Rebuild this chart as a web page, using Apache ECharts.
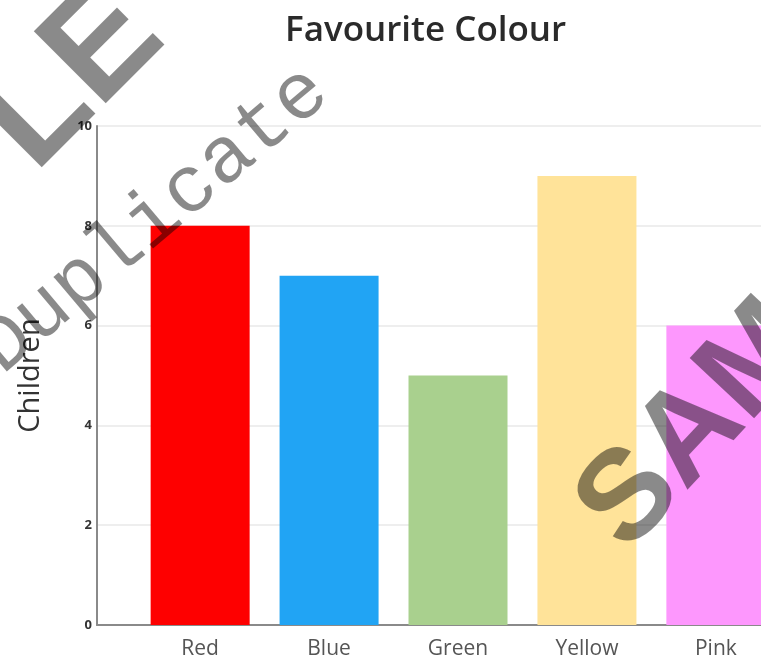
<!DOCTYPE html>
<html>
<head>
<meta charset="utf-8">
<script src="https://cdn.jsdelivr.net/npm/echarts@6/dist/echarts.min.js"></script>
<style>html,body{margin:0;padding:0;background:#fff}#c{width:761px;height:662px}</style>
</head>
<body>
<div id="c"></div>
<script>
const categories = ['Red', 'Blue', 'Green', 'Yellow', 'Pink'];
const values = [8, 7, 5, 9, 6];
const barColors = ['#fe0000', '#21a4f4', '#a9d08e', '#ffe399', '#fd97fd'];
const yTickValues = [0, 2, 4, 6, 8, 10];
const titleText = 'Favourite Colour';
const yAxisName = 'Children';

const chart = echarts.init(document.getElementById('c'), null, {renderer: 'canvas'});
const font = '"Open Sans", "Noto Sans", sans-serif';
const wm = 'rgba(0,0,0,0.46)';
chart.setOption({
  backgroundColor: '#fff',
  animation: false,
  title: {
    text: titleText, left: 280, top: 9,
    textStyle: {fontFamily: font, fontSize: 35, fontWeight: 600, color: '#2a2a2a'}
  },
  grid: {left: 97, right: 0, top: 126, bottom: 37, containLabel: false},
  xAxis: {
    type: 'value', min: -0.8, max: 4.35,
    axisLine: {show: true, onZero: false, lineStyle: {color: '#8a8a8a', width: 2}},
    axisTick: {show: false},
    splitLine: {show: false},
    axisLabel: {
      customValues: categories.map((c, i) => i),
      formatter: v => categories[Math.round(v)] || '',
      fontFamily: font, fontSize: 21, color: '#555', margin: 14
    }
  },
  yAxis: {
    type: 'value', min: yTickValues[0], max: yTickValues[yTickValues.length - 1], interval: 2,
    name: yAxisName, nameLocation: 'middle', nameGap: 52,
    nameTextStyle: {fontFamily: font, fontSize: 29, color: '#333'},
    axisLine: {show: true, onZero: false, lineStyle: {color: '#8a8a8a', width: 2}},
    axisTick: {show: false},
    splitLine: {show: true, lineStyle: {color: '#e9e9e9', width: 1.5}},
    axisLabel: {fontFamily: font, fontSize: 13, fontWeight: 'bold', color: '#333', margin: 5}
  },
  series: [{
    type: 'bar',
    barWidth: 99,
    data: values.map((v, i) => ({value: [i, v], itemStyle: {color: barColors[i]}}))
  }],
  graphic: [
    {type: 'text', x: 192, y: 64, rotation: Math.PI / 4, z: 100,
     style: {text: 'SAMPLE', textAlign: 'right', textVerticalAlign: 'bottom', font: 'bold 148px "Liberation Sans", sans-serif', fill: wm}},
    {type: 'text', x: 14, y: 390, rotation: 0.7, z: 100,
     style: {text: 'Duplicate', textAlign: 'left', textVerticalAlign: 'bottom', font: '80px "Liberation Mono", monospace', fill: wm}},
    {type: 'text', x: 648, y: 574, rotation: 0.82, z: 100,
     style: {text: 'SAMPLE', textAlign: 'left', textVerticalAlign: 'bottom', font: 'bold 128px "Liberation Sans", sans-serif', fill: wm}}
  ]
});
</script>
</body>
</html>
